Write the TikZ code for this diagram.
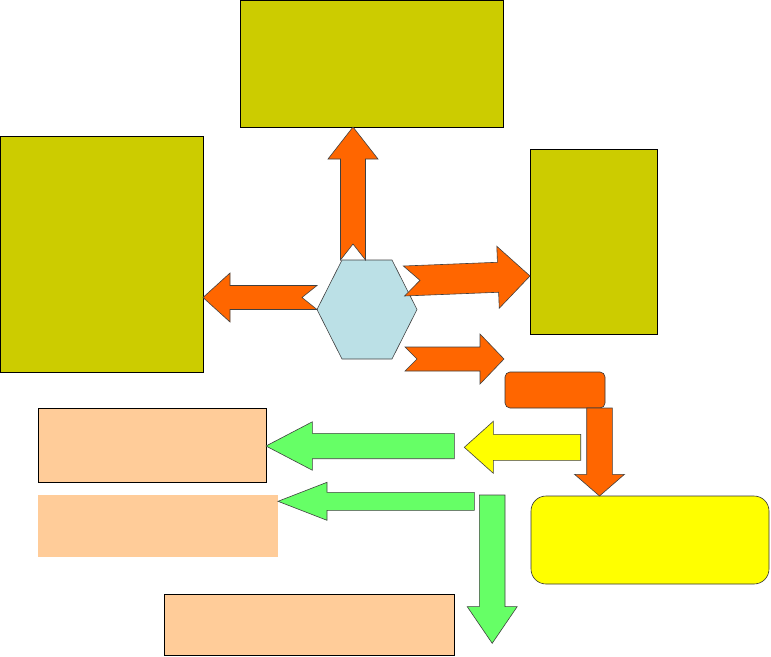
\documentclass[tikz,border=0pt]{standalone}
\usepackage{tikz}
\usepackage{xcolor}
\usetikzlibrary{calc,positioning}

\definecolor{boxolive}{HTML}{CCCC00}
\definecolor{boxpeach}{HTML}{FFCC99}
\definecolor{hubblue}{HTML}{BBE0E6}
\definecolor{arrorange}{HTML}{FF6600}
\definecolor{arrgreen}{HTML}{66FF66}
\definecolor{noteyellow}{HTML}{FFFF00}

% from, to, half shaft, half head, head length, tail notch, fill
\newcommand{\blockarrow}[7]{%
  \filldraw[arrline, fill=#7]
    ($(#1)!#3pt!90:(#2)$) -- ($(#1)!#6pt!(#2)$) -- ($(#1)!#3pt!-90:(#2)$)
    -- ($(#2)!#5pt!(#1)!#3pt!90:(#1)$) -- ($(#2)!#5pt!(#1)!#4pt!90:(#1)$)
    -- (#2)
    -- ($(#2)!#5pt!(#1)!#4pt!-90:(#1)$) -- ($(#2)!#5pt!(#1)!#3pt!-90:(#1)$)
    -- cycle;
}

\begin{document}
\begin{tikzpicture}
  [x=1pt,y=-1pt,
   every node/.style={rectangle,inner sep=0pt,outer sep=0pt,anchor=north west},
   olivebox/.style={fill=boxolive,draw=black,line width=0.6pt},
   peachbox/.style={fill=boxpeach,draw=black,line width=0.6pt},
   plainpeach/.style={fill=boxpeach},
   relaybox/.style={fill=arrorange,draw=black!80,line width=0.6pt,rounded corners=5pt},
   notebox/.style={fill=noteyellow,draw=black!80,line width=0.6pt,rounded corners=15pt},
   hubbox/.style={anchor=center,minimum width=100pt,minimum height=99pt},
   arrline/.style={draw=black!75,line width=0.6pt,line join=miter}]
  \useasboundingbox (0,0) rectangle (771,656);

  \node[olivebox,minimum width=263pt,minimum height=127pt] (b1) at (240,0) {};
  \node[olivebox,minimum width=203pt,minimum height=236pt] (b2) at (0,136) {};
  \node[olivebox,minimum width=127pt,minimum height=185pt] (b3) at (530,149) {};
  \node[peachbox,minimum width=228pt,minimum height=74pt] (b4) at (38,408) {};
  \node[plainpeach,minimum width=240pt,minimum height=62pt] (b5) at (38,495) {};
  \node[peachbox,minimum width=290pt,minimum height=61pt] (b6) at (164,594) {};
  \node[relaybox,minimum width=100pt,minimum height=36pt] (b7) at (505,372) {};
  \node[notebox,minimum width=238pt,minimum height=88pt] (b8) at (531,496) {};

  \node[hubbox] (h) at (367,309.5) {};
  \filldraw[fill=hubblue,draw=black!75,line width=0.6pt]
    (h.west) -- ($(h.north west)!.25!(h.north east)$) -- ($(h.north west)!.75!(h.north east)$)
    -- (h.east) -- ($(h.south west)!.75!(h.south east)$) -- ($(h.south west)!.25!(h.south east)$)
    -- cycle;

  \coordinate (s1) at ($(h.north)+(-14,0)$);
  \coordinate (t1) at (b1.south -| s1);
  \coordinate (s2) at ($(h.west)+(0,-12)$);
  \coordinate (t2) at (b2.east |- s2);
  \coordinate (s3) at (404,281);
  \coordinate (t3) at ($(b3.west)+(0,34.5)$);
  \coordinate (s4) at ($(h.south)+(38,0)$);
  \coordinate (t4) at (504,359);
  \coordinate (s5) at ($(b7.south east)+(-5.5,0)$);
  \coordinate (t5) at (b8.north -| s5);
  \coordinate (s6) at (580.7,447.3);
  \coordinate (t6) at (464.3,447.3);
  \coordinate (s7) at (454.3,446);
  \coordinate (t7) at (b4.east |- s7);
  \coordinate (s8) at (474.3,501.3);
  \coordinate (t8) at (b5.east |- s8);
  \coordinate (s9) at (492.2,495);
  \coordinate (t9) at (492.2,643.3);

  \foreach \from/\to/\sw/\hw/\hl/\nt/\col in
    {s1/t1/12.5/25/32/16/arrorange, s2/t2/12/24.5/27/15/arrorange,
     s3/t3/15/31/32/16/arrorange, s4/t4/12/25/24/12/arrorange,
     s5/t5/12.8/25/21.7/0/arrorange, s6/t6/13/26/29/0/noteyellow,
     s7/t7/12.7/24.2/46.3/0/arrgreen, s8/t8/9/19/49/0/arrgreen,
     s9/t9/12.8/25/36.7/0/arrgreen}
    \blockarrow{\from}{\to}{\sw}{\hw}{\hl}{\nt}{\col};

\end{tikzpicture}
\end{document}
